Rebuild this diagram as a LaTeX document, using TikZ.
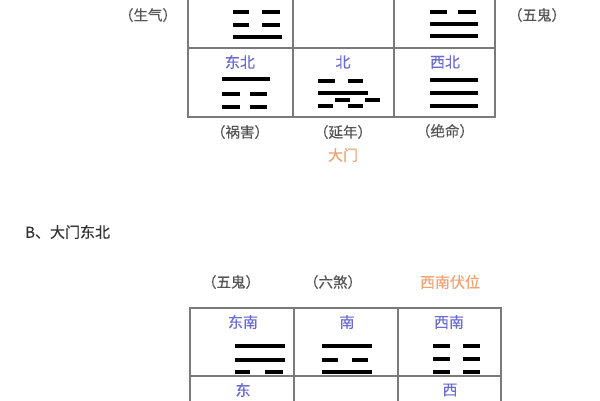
\documentclass[tikz,border=0pt]{standalone}
\usepackage{fontspec}
\setmainfont{Liberation Serif}
\newfontfamily\cjk[FakeBold=0.35]{Noto Sans CJK SC}
\definecolor{dirblue}{HTML}{6B6BD6}
\definecolor{doororange}{HTML}{F2A273}
\definecolor{anngray}{HTML}{555555}
\definecolor{gridgray}{HTML}{7A7A7A}
\tikzset{
  gridline/.style={draw=gridgray, line width=1.2pt},
  yao/.style={line width=4pt, black},
  dirlab/.style={font=\cjk\fontsize{15}{15}\selectfont, text=dirblue, inner sep=0pt},
  annlab/.style={font=\cjk\fontsize{14.5}{14.5}\selectfont, text=anngray, inner sep=0pt},
  doorlab/.style={font=\cjk\fontsize{15}{15}\selectfont, text=doororange, inner sep=0pt},
  titlelab/.style={font=\cjk\fontsize{15}{15}\selectfont, text=black!80, inner sep=0pt, anchor=west}
}
\begin{document}
\begin{tikzpicture}[x=1pt,y=-1pt]
\useasboundingbox (0,0) rectangle (600,400);
\fill[white] (0,0) rectangle (600,400);
% ---------- top table ----------
\draw[gridline] (188,-20) rectangle (495,117);
\draw[gridline] (293,-20) -- (293,117);
\draw[gridline] (394,-20) -- (394,117);
\draw[gridline] (188,48) -- (495,48);
% top-left cell trigram
\draw[yao] (233,12) -- (249,12); \draw[yao] (262,12) -- (280,12);
\draw[yao] (233,25) -- (249,25); \draw[yao] (262,25) -- (280,25);
\draw[yao] (233,37) -- (282,37);
% top-right cell trigram
\draw[yao] (430,12) -- (447,12); \draw[yao] (458,12) -- (476,12);
\draw[yao] (430,24) -- (478,24);
\draw[yao] (430,36) -- (478,36);
% bottom row labels
\node[dirlab] (dbn) at (240,62) {东北};
\node[dirlab] (dn) at (343,62) {北};
\node[dirlab] (dxb) at (445,62) {西北};
% 东北 trigram
\draw[yao] (222,79) -- (270,79);
\draw[yao] (222,94) -- (240,94); \draw[yao] (250,94) -- (267,94);
\draw[yao] (222,107) -- (240,107); \draw[yao] (250,107) -- (267,107);
% 北 trigram (overlapping as in source)
\draw[yao] (318,81) -- (335,81); \draw[yao] (348,81) -- (363,81);
\draw[yao] (318,93) -- (368,93);
\draw[yao] (335,100) -- (350,100); \draw[yao] (365,100) -- (380,100);
\draw[yao] (318,106) -- (333,106); \draw[yao] (348,106) -- (363,106);
% 西北 trigram
\draw[yao] (430,80) -- (478,80);
\draw[yao] (430,93) -- (478,93);
\draw[yao] (430,106) -- (478,106);
% annotations
\node[annlab] (sq) at (148,15) {（生气）};
\node[annlab] (wg) at (537,15) {（五鬼）};
\node[annlab] (hh) at (240,132) {（祸害）};
\node[annlab] (yn) at (343,132) {（延年）};
\node[annlab] (jm) at (445,131) {（绝命）};
\node[doorlab] (dm) at (343,155) {大门};
% ---------- title ----------
\node[titlelab] (title) at (25,232) {B、大门东北};
% ---------- bottom table ----------
\node[annlab] (wg2) at (231,282) {（五鬼）};
\node[annlab] (ls) at (333,282) {（六煞）};
\node[doorlab] (xnfw) at (450,282) {西南伏位};
\draw[gridline] (190,308) rectangle (501,420);
\draw[gridline] (294,308) -- (294,420);
\draw[gridline] (398,308) -- (398,420);
\draw[gridline] (190,376) -- (501,376);
\node[dirlab] (ddn) at (243,322) {东南};
\node[dirlab] (dnan) at (347,322) {南};
\node[dirlab] (dxn) at (449,322) {西南};
% 东南 trigram
\draw[yao] (235,346) -- (285,346);
\draw[yao] (235,360) -- (285,360);
\draw[yao] (235,372) -- (250,372); \draw[yao] (265,372) -- (283,372);
% 南 trigram
\draw[yao] (322,346) -- (372,346);
\draw[yao] (322,360) -- (338,360); \draw[yao] (352,360) -- (368,360);
\draw[yao] (322,372) -- (372,372);
% 西南 trigram
\draw[yao] (433,346) -- (450,346); \draw[yao] (463,346) -- (480,346);
\draw[yao] (433,359) -- (450,359); \draw[yao] (463,359) -- (480,359);
\draw[yao] (433,372) -- (450,372); \draw[yao] (463,372) -- (480,372);
\node[dirlab] (dd) at (243,390) {东};
\node[dirlab] (dx) at (450,390) {西};
\end{tikzpicture}
\end{document}
